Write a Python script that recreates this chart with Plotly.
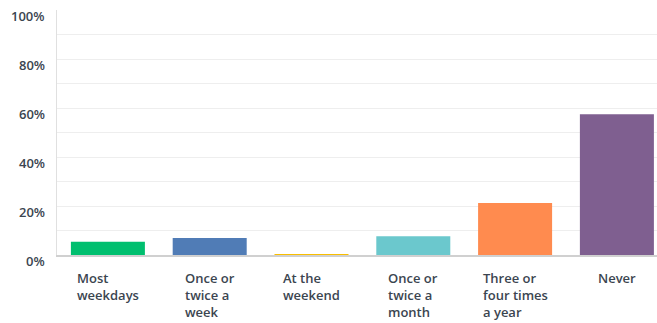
import plotly.graph_objects as go

categories = ["Most<br>weekdays", "Once or<br>twice a<br>week", "At the<br>weekend",
              "Once or<br>twice a<br>month", "Three or<br>four times<br>a year", "Never"]
values = [5.4, 6.9, 0.4, 7.7, 21.2, 57.5]
colors = ["#00bf6f", "#507cb6", "#f9be00", "#6bc8cd", "#ff8b4f", "#7f5f90"]
y_tickvals = [0, 20, 40, 60, 80, 100]
y_ticktext = ["0%", "20%", "40%", "60%", "80%", "100%"]

FONT = "Open Sans"
TXT = "#3b4550"

xs = list(range(len(categories)))
fig = go.Figure(go.Bar(x=xs, y=values, marker=dict(color=colors, line=dict(width=0)),
                       width=0.727, hoverinfo="skip"))

annotations = []
for i, c in enumerate(categories):
    annotations.append(dict(x=i, y=0, xref="x", yref="y", text=c, showarrow=False,
                            xanchor="center", yanchor="top", align="left", yshift=-12,
                            font=dict(family=FONT, size=13, color=TXT, weight=600)))
for v, t in zip(y_tickvals, y_ticktext):
    annotations.append(dict(x=0, y=v, xref="paper", yref="y", text=t, showarrow=False,
                            xanchor="right", yanchor="middle", xshift=-10, yshift=-6,
                            font=dict(family=FONT, size=13, color=TXT, weight=600)))

fig.update_layout(
    width=657, height=323,
    margin=dict(l=57, r=0, t=10, b=68),
    paper_bgcolor="white", plot_bgcolor="white",
    showlegend=False,
    annotations=annotations,
    xaxis=dict(range=[-0.5, 5.394], showticklabels=False, showgrid=False, zeroline=False,
               showline=True, linecolor="#d0d0d0", linewidth=2, fixedrange=True),
    yaxis=dict(range=[0, 100], tickvals=y_tickvals, showticklabels=False,
               showgrid=True, gridcolor="#eeeeee", gridwidth=1, zeroline=False,
               showline=True, linecolor="#e0e0e0", linewidth=1,
               minor=dict(dtick=10, showgrid=True, gridcolor="#eeeeee", gridwidth=1),
               fixedrange=True),
)

fig.write_html("out.html",
               config={"displayModeBar": False, "staticPlot": True},
               post_script="document.body.style.margin='0';document.body.style.overflow='hidden';")
